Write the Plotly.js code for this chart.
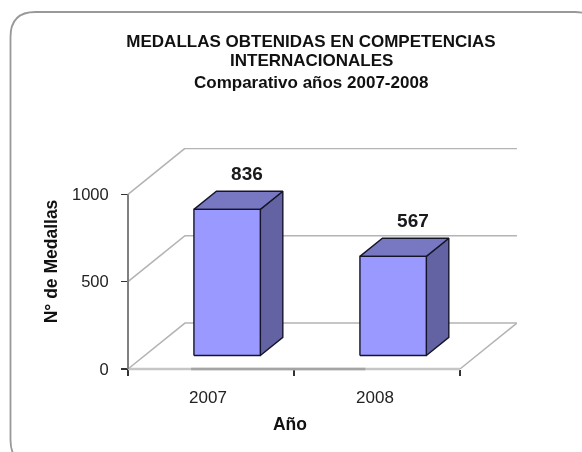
<!DOCTYPE html>
<html>
<head>
<meta charset="utf-8">
<script src="https://cdn.plot.ly/plotly-3.0.1.min.js"></script>
<style>
html,body{margin:0;padding:0;background:#fff;overflow:hidden}
#chart{width:582px;height:452px;filter:blur(0.35px)}
</style>
</head>
<body>
<div id="chart"></div>
<script>
var categories = ['2007', '2008'];
var medallas = [836, 567];
var yTicks = [0, 500, 1000];
var titleLines = ['MEDALLAS OBTENIDAS EN COMPETENCIAS', 'INTERNACIONALES', 'Comparativo años 2007-2008'];
var yTitle = 'N° de Medallas';
var xTitle = 'Año';

// pseudo-3D projection: a point at depth d (0 front .. 1 back) is shifted by these data offsets
var depthX = 0.343, depthY = 263;
var W = 582, H = 452, ml = 120, mr = 65, mt = 148, mb = 78;
var pw = W - ml - mr, ph = H - mt - mb;
var catPx = 166, yScale = 0.1747, x0Px = 128, y0Px = 369;
var FONT = '"Liberation Sans", Arial, sans-serif';
var GRID = '#b4b4b4', EDGE = '#15152a';

function project(x, y, d) { return [x + d * depthX, y + d * depthY]; }
function base(name) {
  return {type: 'scatter', xaxis: 'x2', yaxis: 'y2', name: name, showlegend: false, hoverinfo: 'skip', cliponaxis: false};
}
function poly(points, fill, name) {
  var pts = points.map(function (p) { return project(p[0], p[1], p[2]); });
  pts.push(pts[0]);
  return Object.assign(base(name), {
    mode: 'lines',
    x: pts.map(function (p) { return p[0]; }), y: pts.map(function (p) { return p[1]; }),
    fill: 'toself', fillcolor: fill, line: {color: EDGE, width: 1.4}
  });
}
function line(points, color, width, name) {
  var pts = points.map(function (p) { return project(p[0], p[1], p[2]); });
  return Object.assign(base(name), {
    mode: 'lines',
    x: pts.map(function (p) { return p[0]; }), y: pts.map(function (p) { return p[1]; }),
    line: {color: color, width: width}
  });
}

var traces = [];
var n = categories.length;
yTicks.forEach(function (v) {
  traces.push(line([[0, v, 0], [0, v, 1], [n, v, 1]], GRID, 1.6, 'grid ' + v));
});
traces.push(line([[n, 0, 0], [n, 0, 1]], GRID, 1.6, 'floor edge'));
traces.push(line([[0, 0, 0], [n, 0, 0]], '#c6c6c6', 2.6, 'category axis'));
traces.push(line([[0.38, 0, 0], [1.43, 0, 0]], '#a4a4a4', 2.6, 'category axis shade'));
traces.push(line([[0, 0, 0], [0, 1000, 0]], '#808080', 2, 'value axis'));

var d0 = 0.295, d1 = 0.69, halfW = 0.2;
medallas.forEach(function (v, i) {
  var a = i + 0.496 - halfW, b = i + 0.496 + halfW;
  traces.push(poly([[b, 0, d0], [b, 0, d1], [b, v, d1], [b, v, d0]], '#6363A3', categories[i] + ' side'));
  traces.push(poly([[a, v, d0], [a, v, d1], [b, v, d1], [b, v, d0]], '#7878C2', categories[i] + ' top'));
  traces.push(poly([[a, 0, d0], [b, 0, d0], [b, v, d0], [a, v, d0]], '#9999FF', categories[i] + ' front'));
});
var lab = medallas.map(function (v, i) { return project(i + 0.48, v + 40, d1); });
traces.push(Object.assign(base('labels'), {
  mode: 'text',
  x: lab.map(function (p) { return p[0]; }), y: lab.map(function (p) { return p[1]; }),
  text: medallas.map(String), textposition: 'top center',
  textfont: {family: FONT, size: 19, color: '#1a1a1a', weight: 700}
}));
// carrier trace for the primary axes that hold ticks and axis titles
traces.push({type: 'scatter', mode: 'none', x: [0], y: [0], showlegend: false, hoverinfo: 'skip'});

function px(x) { return (x - ml) / pw; }
function py(y) { return (H - mb - y) / ph; }
var L = 10.5, T = 12, R = 600, B = 465, Rd = 25;
var frame = 'M' + px(L) + ',' + py(B - Rd) + ' L' + px(L) + ',' + py(T + Rd) +
  ' Q' + px(L) + ',' + py(T) + ' ' + px(L + Rd) + ',' + py(T) +
  ' L' + px(R - Rd) + ',' + py(T) + ' Q' + px(R) + ',' + py(T) + ' ' + px(R) + ',' + py(T + Rd) +
  ' M' + px(L) + ',' + py(B - Rd) + ' Q' + px(L) + ',' + py(B) + ' ' + px(L + Rd) + ',' + py(B);

var titleFont = {family: FONT, size: 17, color: '#111111', weight: 700};
var axisPxLeft = 120, axisPxRight = 460, yTopPx = 154, x2Left = 123;

var layout = {
  width: W, height: H, showlegend: false,
  paper_bgcolor: '#ffffff', plot_bgcolor: 'rgba(0,0,0,0)',
  margin: {l: ml, r: mr, t: mt, b: mb, pad: 0},
  font: {family: FONT, size: 16, color: '#1a1a1a'},
  title: {text: titleLines[0], x: 311 / W, xanchor: 'center', y: 1 - 41 / H, yanchor: 'middle', font: titleFont},
  xaxis: {
    type: 'linear', domain: [px(axisPxLeft), px(axisPxRight)],
    range: [(axisPxLeft - x0Px) / catPx, (axisPxRight - x0Px) / catPx],
    anchor: 'y', tickmode: 'array', tickvals: [0.482, 1.488], ticktext: categories,
    ticks: '', ticklabelstandoff: 16, showgrid: false, zeroline: false, showline: false,
    tickfont: {family: FONT, size: 17, color: '#222222'},
    minor: {tickmode: 'array', tickvals: [0, 1, 2], ticks: 'outside', ticklen: 6, tickcolor: '#333333', tickwidth: 1.5, showgrid: false},
    title: {text: xTitle, standoff: 11, font: {family: FONT, size: 17.5, color: '#111111', weight: 700}}
  },
  yaxis: {
    domain: [py(y0Px), py(yTopPx)], range: [0, (y0Px - yTopPx) / yScale],
    anchor: 'free', position: px(x0Px), tickmode: 'array', tickvals: yTicks, ticks: 'outside', ticklen: 7,
    ticklabelstandoff: 9, tickcolor: '#333333', tickwidth: 1.5, showgrid: false, zeroline: false, showline: false,
    tickfont: {family: FONT, size: 16.5, color: '#222222'},
    title: {text: yTitle, standoff: 8, font: {family: FONT, size: 17.5, color: '#111111', weight: 700}}
  },
  xaxis2: {
    domain: [px(x2Left), 1], range: [(x2Left - x0Px) / catPx, (W - mr - x0Px) / catPx], anchor: 'y2',
    visible: false, showgrid: false, zeroline: false
  },
  yaxis2: {
    domain: [0, 1], range: [(y0Px - (H - mb)) / yScale, (y0Px - mt) / yScale], anchor: 'x2',
    visible: false, showgrid: false, zeroline: false
  },
  annotations: [
    {text: titleLines[1], xref: 'paper', yref: 'paper', x: px(311), y: py(60), xanchor: 'center', yanchor: 'middle', showarrow: false, font: titleFont},
    {text: titleLines[2], xref: 'paper', yref: 'paper', x: px(311), y: py(82), xanchor: 'center', yanchor: 'middle', showarrow: false, font: titleFont}
  ],
  shapes: [{type: 'path', xref: 'paper', yref: 'paper', layer: 'below', path: frame, line: {color: '#999999', width: 1.8}}]
};
Plotly.newPlot('chart', traces, layout, {displayModeBar: false, staticPlot: true});
</script>
</body>
</html>
